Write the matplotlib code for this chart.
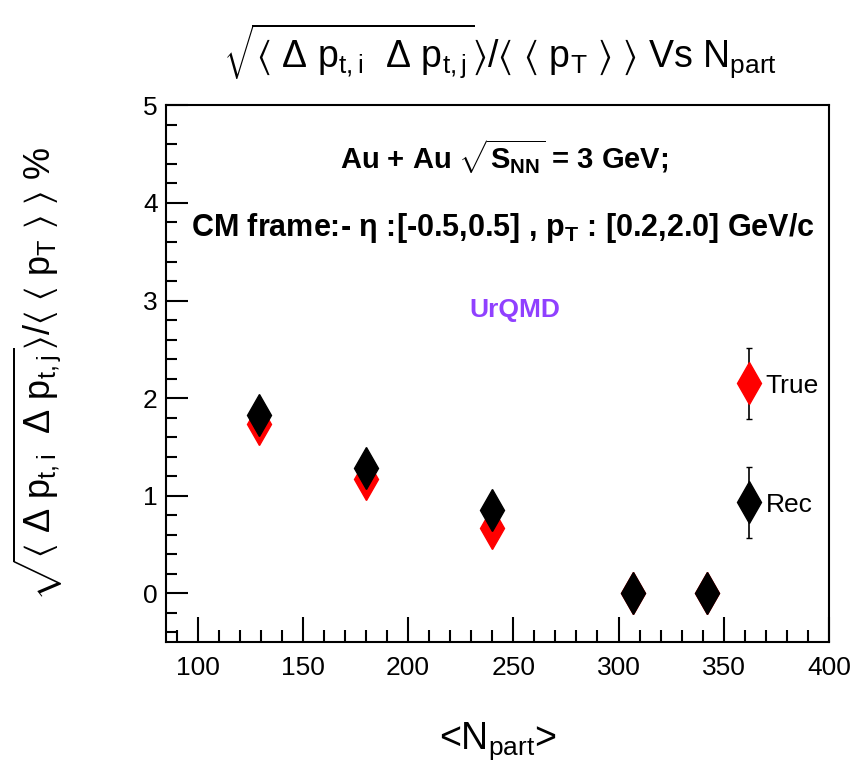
import matplotlib

matplotlib.use("Agg")
import matplotlib.pyplot as plt
from matplotlib.container import ErrorbarContainer
from matplotlib.legend_handler import HandlerErrorbar
from matplotlib.ticker import MultipleLocator

# values
npart = [129, 180, 240, 307, 342]
true_vals = [1.73, 1.17, 0.67, 0.0, 0.0]
rec_vals = [1.83, 1.28, 0.85, 0.0, 0.0]
zero_err = [0.0, 0.0, 0.0, 0.0, 0.0]

plt.rcParams.update(
    {
        "font.family": ["Liberation Sans", "DejaVu Sans"],
        "mathtext.fontset": "custom",
        "mathtext.rm": "Liberation Sans",
        "mathtext.it": "Liberation Sans",
        "mathtext.bf": "Liberation Sans:bold",
        "mathtext.default": "regular",
    }
)

fig = plt.figure(figsize=(8.6, 7.69), dpi=100)
ax = fig.add_axes([0.193, 0.165, 0.771, 0.698])

ax.errorbar(npart, true_vals, yerr=zero_err, fmt="d", color="red", ms=21,
            ecolor="black", elinewidth=1.2, capsize=2, label="True", zorder=3)
ax.errorbar(npart, rec_vals, yerr=zero_err, fmt="d", color="black", ms=21,
            ecolor="black", elinewidth=1.2, capsize=2, label="Rec", zorder=4)

ax.set_xlim(85, 400)
ax.set_ylim(-0.5, 5)
ax.xaxis.set_major_locator(MultipleLocator(50))
ax.xaxis.set_minor_locator(MultipleLocator(10))
ax.yaxis.set_major_locator(MultipleLocator(1))
ax.yaxis.set_minor_locator(MultipleLocator(0.2))
ax.tick_params(which="both", direction="in", top=False, right=False, width=1.5, labelsize=19)
ax.tick_params(axis="x", which="major", length=18, pad=10)
ax.tick_params(axis="x", which="minor", length=9)
ax.tick_params(axis="y", which="major", length=16, pad=6)
ax.tick_params(axis="y", which="minor", length=8)
for sp in ax.spines.values():
    sp.set_linewidth(1.5)

ax.set_xlabel(r"<N$_{part}$>", fontsize=27)
ax.xaxis.set_label_coords(0.5, -0.145)
ax.set_ylabel(
    r"$\sqrt{\langle\ \Delta\ p_{t,i}\ \ \Delta\ p_{t,j}}\rangle/\langle\ \langle\ p_{T}\ \rangle\ \rangle$ %",
    fontsize=26,
)
ax.yaxis.set_label_coords(-0.152, 0.5)

fig.text(
    0.581, 0.933,
    r"$\sqrt{\langle\ \Delta\ p_{t,i}\ \ \Delta\ p_{t,j}}\rangle/\langle\ \langle\ p_{T}\ \rangle\ \rangle$ Vs N$_{part}$",
    fontsize=27, ha="center", va="center",
)

ax.text(0.51, 0.905, r"Au + Au $\sqrt{\mathbf{S}_{\mathbf{NN}}}$ = 3 GeV;",
        transform=ax.transAxes, ha="center", va="center", fontsize=21, fontweight="bold")
ax.text(0.508, 0.771,
        r"CM frame:- $\eta$ :[-0.5,0.5] , $\mathbf{p}_{\mathbf{T}}$ : [0.2,2.0] GeV/c",
        transform=ax.transAxes, ha="center", va="center", fontsize=22, fontweight="bold")
ax.text(0.526, 0.618, "UrQMD", transform=ax.transAxes, ha="center", va="center",
        fontsize=19, fontweight="bold", color="#9040ff")

ax.legend(
    loc="center left", bbox_to_anchor=(0.843, 0.367), frameon=False, fontsize=19,
    handlelength=0.8, handletextpad=0.25, labelspacing=3.6, borderpad=0,
    handler_map={ErrorbarContainer: HandlerErrorbar(yerr_size=1.35, numpoints=1)},
)

fig.savefig("out.png", dpi=100)
